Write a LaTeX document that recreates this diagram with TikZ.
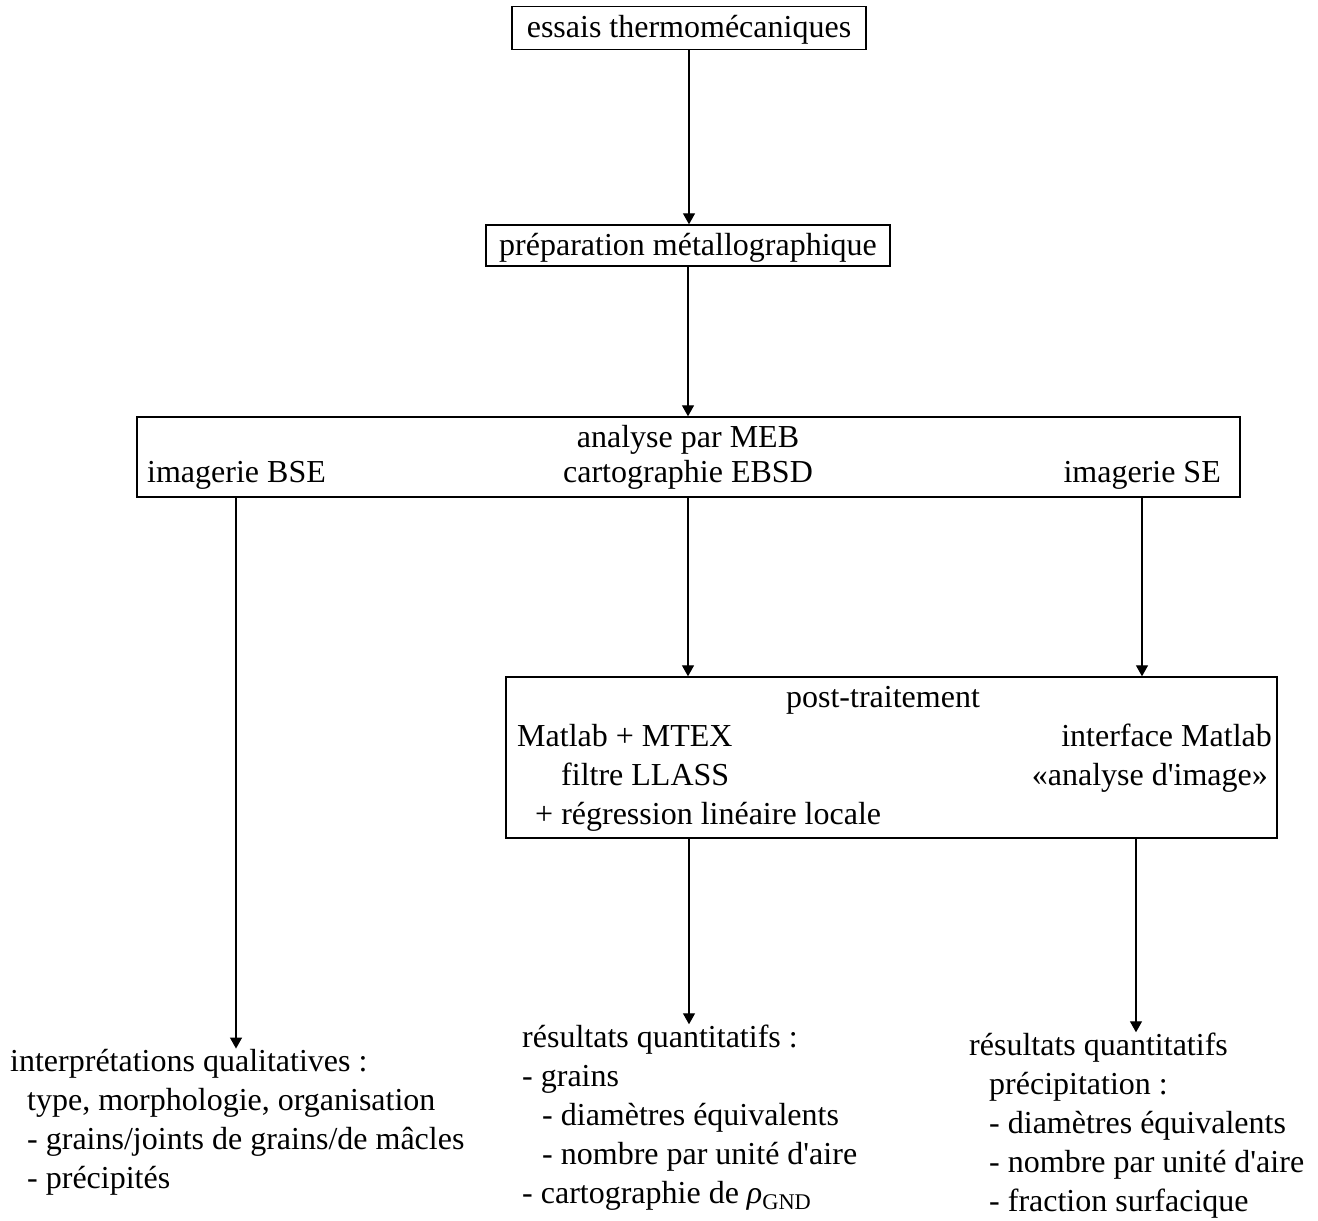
\documentclass[tikz,border=0pt]{standalone}
\usepackage{fontspec}
\setmainfont{Liberation Serif}[Ligatures=TeXOff]
\usetikzlibrary{arrows.meta}
\begin{document}
\begin{tikzpicture}[x=1pt,y=-1pt,
  txt/.style={inner sep=0pt, font=\fontsize{32}{39}\selectfont},
  frame/.style={draw, line width=1.4pt, inner sep=0pt},
  arr/.style={line width=1.3pt, -{Triangle[length=11pt,width=12pt]}}]
\useasboundingbox (0,0) rectangle (1318,1221);

% boxes
\node[frame, minimum width=354pt, minimum height=43pt] (b1) at (689,28) {};
\node[frame, minimum width=404pt, minimum height=41pt] (b2) at (688,245.5) {};
\node[frame, minimum width=1103pt, minimum height=80pt] (b3) at (688.5,457) {};
\node[frame, minimum width=771pt, minimum height=161pt] (b4) at (891.5,757.5) {};

% box texts
\node[txt, anchor=base] (t1) at (689,37) {essais thermomécaniques};
\node[txt, anchor=base] (t2) at (688,255) {préparation métallographique};
\node[txt, anchor=base] (meb) at (688,447) {analyse par MEB};
\node[txt, anchor=base west] (bse) at (147,482) {imagerie BSE};
\node[txt, anchor=base] (ebsd) at (688,482) {cartographie EBSD};
\node[txt, anchor=base east] (se) at (1221,482) {imagerie SE};
\node[txt, anchor=base] (post) at (883,707) {post-traitement};
\node[txt, anchor=base west] (mtex) at (517,746) {Matlab + MTEX};
\node[txt, anchor=base east] (intf) at (1272,746) {interface Matlab};
\node[txt, anchor=base west] (llass) at (561,785) {filtre LLASS};
\node[txt, anchor=base east] (ana) at (1268,785) {«analyse d'image»};
\node[txt, anchor=base west] (regr) at (535,824) {+ régression linéaire locale};

% bottom texts
\node[txt, anchor=base west] (q1) at (10,1071) {interprétations qualitatives :};
\node[txt, anchor=base west] (q2) at (27,1110) {type, morphologie, organisation};
\node[txt, anchor=base west] (q3) at (27,1149) {- grains/joints de grains/de mâcles};
\node[txt, anchor=base west] (q4) at (27,1188) {- précipités};

\node[txt, anchor=base west] (g1) at (522,1047) {résultats quantitatifs :};
\node[txt, anchor=base west] (g2) at (522,1086) {- grains};
\node[txt, anchor=base west] (g3) at (542,1125) {- diamètres équivalents};
\node[txt, anchor=base west] (g4) at (542,1164) {- nombre par unité d'aire};
\node[txt, anchor=base west] (g5) at (522,1203) {- cartographie de \textit{ρ}\textsubscript{GND}};

\node[txt, anchor=base west] (p1) at (969,1055) {résultats quantitatifs};
\node[txt, anchor=base west] (p2) at (989,1094) {précipitation :};
\node[txt, anchor=base west] (p3) at (989,1133) {- diamètres équivalents};
\node[txt, anchor=base west] (p4) at (989,1172) {- nombre par unité d'aire};
\node[txt, anchor=base west] (p5) at (989,1211) {- fraction surfacique};

% connectors
\coordinate (xl) at (236,497);
\coordinate (xm) at (688,497);
\coordinate (xr) at (1142,497);
\coordinate (o1) at (689,838);
\coordinate (o2) at (1136,838);
\draw[arr] (b1.south) -- (b1.south |- b2.north);
\draw[arr] (b2.south) -- (b2.south |- b3.north);
\draw[arr] (xl |- b3.south) -- (xl |- q1.north);
\draw[arr] (xm |- b3.south) -- (xm |- b4.north);
\draw[arr] (xr |- b3.south) -- (xr |- b4.north);
\draw[arr] (o1) -- (o1 |- g1.north);
\draw[arr] (o2) -- (o2 |- p1.north);
\end{tikzpicture}
\end{document}
